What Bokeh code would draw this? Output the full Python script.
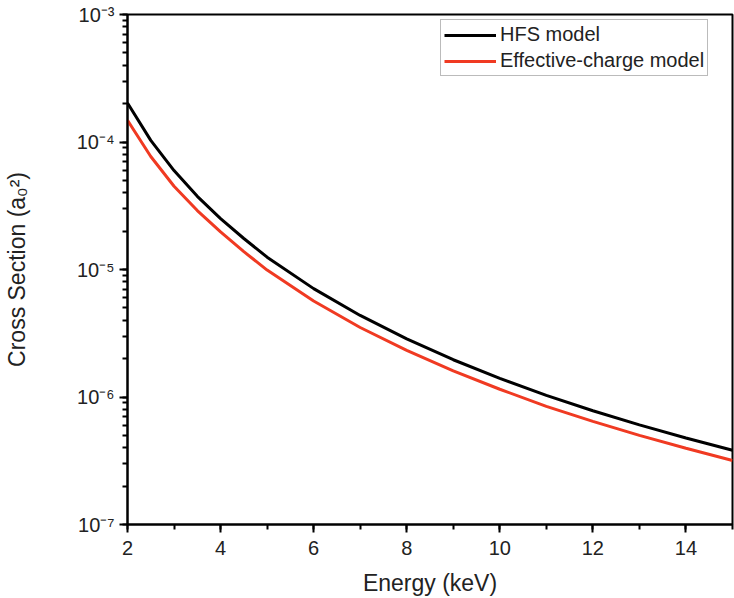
from bokeh.plotting import figure
from bokeh.models import (Range1d, SingleIntervalTicker, LogTicker, CustomJSTickFormatter,
                          Legend, LegendItem)
from bokeh.embed import file_html
from bokeh.resources import INLINE

# Data
energy_kev = [2, 2.5, 3, 3.5, 4, 4.5, 5, 6, 7, 8, 9, 10, 11, 12, 13, 14, 15]
hfs_model = [2.02e-4, 1.03e-4, 5.97e-5, 3.75e-5, 2.51e-5, 1.75e-5, 1.25e-5, 7.08e-6,
             4.36e-6, 2.86e-6, 1.96e-6, 1.40e-6, 1.03e-6, 7.8e-7, 6.04e-7, 4.77e-7, 3.82e-7]
effective_charge_model = [1.48e-4, 7.7e-5, 4.5e-5, 2.9e-5, 1.97e-5, 1.38e-5, 9.9e-6, 5.66e-6,
                          3.51e-6, 2.32e-6, 1.60e-6, 1.15e-6, 8.45e-7, 6.44e-7, 5.0e-7, 3.96e-7, 3.18e-7]
series_names = ["HFS model", "Effective-charge model"]
y_tick_exponents = [-7, -6, -5, -4, -3]
y_tick_labels = ["10\u207b\u2077", "10\u207b\u2076", "10\u207b\u2075", "10\u207b\u2074", "10\u207b\u00b3"]
x_title = "Energy (keV)"
y_title = "Cross Section (a\u2080\u00b2)"

FONT = "Liberation Sans"

p = figure(width=734, height=598, y_axis_type="log",
           x_range=Range1d(2, 15), y_range=Range1d(1e-7, 1e-3),
           output_backend="svg", toolbar_location=None,
           min_border_left=124, min_border_right=2, min_border_top=14, min_border_bottom=73)
p.background_fill_color = "white"
p.border_fill_color = "white"
p.outline_line_color = "black"
p.outline_line_width = 2
p.xgrid.visible = False
p.ygrid.visible = False

r1 = p.line(energy_kev, hfs_model, line_color="black", line_width=3)
r2 = p.line(energy_kev, effective_charge_model, line_color="#F03A22", line_width=3)

# x axis
p.xaxis.ticker = SingleIntervalTicker(interval=2, num_minor_ticks=2)
p.xaxis.axis_label = x_title
# y axis
p.yaxis.ticker = LogTicker(num_minor_ticks=10)
p.yaxis.formatter = CustomJSTickFormatter(
    args=dict(exps=y_tick_exponents, labels=y_tick_labels),
    code="""
const e = Math.round(Math.log10(tick));
const i = exps.indexOf(e);
return i >= 0 ? labels[i] : '';
""")
p.yaxis.axis_label = y_title

for ax in (p.xaxis[0], p.yaxis[0]):
    ax.axis_line_width = 2
    ax.axis_line_color = "black"
    ax.major_tick_line_width = 2
    ax.minor_tick_line_width = 2
    ax.major_tick_out = 8
    ax.major_tick_in = 0
    ax.minor_tick_out = 5
    ax.minor_tick_in = 0
    ax.major_label_text_font = FONT
    ax.major_label_text_font_size = "20px"
    ax.major_label_text_color = "#222222"
    ax.axis_label_text_font = FONT
    ax.axis_label_text_font_size = "23px"
    ax.axis_label_text_font_style = "normal"
    ax.axis_label_text_color = "#222222"
p.xaxis.major_label_standoff = 8
p.yaxis.major_label_standoff = 5
p.xaxis.axis_label_standoff = 12
p.yaxis.axis_label_standoff = 44

legend = Legend(items=[LegendItem(label=series_names[0], renderers=[r1]),
                       LegendItem(label=series_names[1], renderers=[r2])],
                location=(313, 448))
legend.label_text_font = FONT
legend.label_text_font_size = "20px"
legend.label_text_color = "#222222"
legend.glyph_width = 52
legend.glyph_height = 22
legend.label_height = 22
legend.label_standoff = 4
legend.spacing = 3
legend.padding = 3
legend.margin = 0
legend.border_line_color = "#777777"
legend.border_line_width = 1.5
legend.background_fill_alpha = 1
p.add_layout(legend, "center")

open("out.html", "w").write(file_html(p, INLINE))
